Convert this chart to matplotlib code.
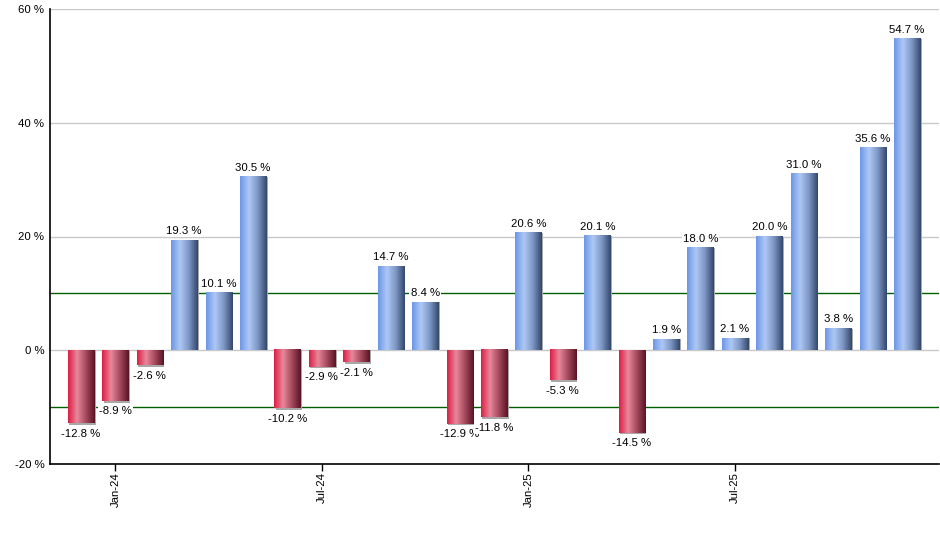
import matplotlib.pyplot as plt
import numpy as np
from matplotlib.colors import LinearSegmentedColormap

# monthly returns, Dec-23 .. Dec-25
months = ['Dec-23', 'Jan-24', 'Feb-24', 'Mar-24', 'Apr-24', 'May-24', 'Jun-24',
          'Jul-24', 'Aug-24', 'Sep-24', 'Oct-24', 'Nov-24', 'Dec-24',
          'Jan-25', 'Feb-25', 'Mar-25', 'Apr-25', 'May-25', 'Jun-25',
          'Jul-25', 'Aug-25', 'Sep-25', 'Oct-25', 'Nov-25', 'Dec-25']
values = [-12.8, -8.9, -2.6, 19.3, 10.1, 30.5, -10.2, -2.9, -2.1, 14.7, 8.4,
          -12.9, -11.8, 20.6, -5.3, 20.1, -14.5, 1.9, 18.0, 2.1, 20.0, 31.0,
          3.8, 35.6, 54.7]
tick_months = ['Jan-24', 'Jul-24', 'Jan-25', 'Jul-25']
y_ticks = [-20, 0, 20, 40, 60]
ref_lines = [10, -10]

plt.rcParams['font.family'] = ['Liberation Sans', 'DejaVu Sans']
fs = 8.2

blue_cmap = LinearSegmentedColormap.from_list(
    'blue_bar', ['#6d98e6', '#aec8f6', '#7d96c4', '#34486c'])
red_cmap = LinearSegmentedColormap.from_list(
    'red_bar', ['#dc1f45', '#e9879b', '#a54a5e', '#5a1424'])

fig = plt.figure(figsize=(9.4, 5.5), dpi=100)
ax = fig.add_axes([0.0532, 0.1564, 0.9458, 0.8272])

bar_w = 0.76
grad = np.linspace(0, 1, 64).reshape(1, -1)

for i, v in enumerate(values):
    cmap = blue_cmap if v >= 0 else red_cmap
    # small grey shadow on the right (and bottom of negative bars)
    sh = 0.045
    ax.bar(i + sh, v if v >= 0 else v - 0.3, bar_w, color='#a8a8a8',
           zorder=2, linewidth=0)
    ax.imshow(grad, extent=[i - bar_w / 2, i + bar_w / 2, 0, v], aspect='auto',
              cmap=cmap, zorder=3, interpolation='bilinear')
    if v >= 0:
        ax.annotate(f'{v:.1f} %', xy=(i, v), xytext=(0, 3), textcoords='offset points',
                    ha='center', va='bottom', fontsize=fs, zorder=5,
                    bbox=dict(boxstyle='square,pad=0.1', fc='white', ec='none'))
    else:
        ax.annotate(f'{v:.1f} %', xy=(i, v), xytext=(0, -4), textcoords='offset points',
                    ha='center', va='top', fontsize=fs, zorder=5,
                    bbox=dict(boxstyle='square,pad=0.1', fc='white', ec='none'))

for yt in y_ticks:
    if yt != -20:
        ax.axhline(yt, color='#c8c8c8', linewidth=1, zorder=1)
for r in ref_lines:
    ax.axhline(r, color='#006000', linewidth=1, zorder=1)

ax.set_xlim(-0.9, 24.93)
ax.set_ylim(-20, 60)
ax.set_yticks(y_ticks)
ax.set_yticklabels([f'{t} %' for t in y_ticks], fontsize=fs)
ax.tick_params(axis='y', length=0, pad=4)
ax.set_xticks([months.index(m) for m in tick_months])
ax.set_xticklabels(tick_months, rotation=90, fontsize=fs)
ax.tick_params(axis='x', length=5, width=1, color='black', pad=1)

ax.spines['top'].set_visible(False)
ax.spines['right'].set_visible(False)
ax.spines['left'].set_linewidth(1.2)
ax.spines['bottom'].set_linewidth(1.2)

fig.savefig('out.png', dpi=100)
